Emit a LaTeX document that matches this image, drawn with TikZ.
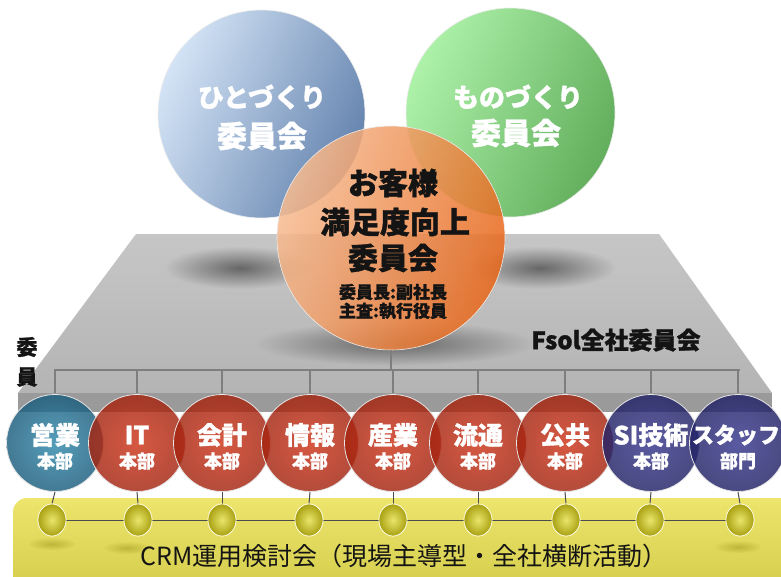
\documentclass[tikz,border=0pt]{standalone}
\usepackage{fontspec}
\setmainfont{Noto Sans CJK JP}[BoldFeatures={FakeBold=1.2}]
\usetikzlibrary{shapes.geometric}
\definecolor{platT}{HTML}{C6C6C6}
\definecolor{platB}{HTML}{B4B4B4}
\definecolor{platM}{HTML}{C1C1C1}
\definecolor{platL}{HTML}{B9B9B9}
\definecolor{bandG}{HTML}{9A9A9A}
\definecolor{lineG}{HTML}{7E7E7E}
\definecolor{shadowC}{HTML}{666666}
\definecolor{blueL}{HTML}{D4E4F6}
\definecolor{blueD}{HTML}{6483AE}
\definecolor{greenL}{HTML}{AEF2AA}
\definecolor{greenD}{HTML}{62AE5C}
\definecolor{orL}{HTML}{F6BC92}
\definecolor{orD}{HTML}{E8671A}
\definecolor{tealI}{HTML}{2F8AAC}
\definecolor{tealO}{HTML}{1B5C7C}
\definecolor{redI}{HTML}{CE3418}
\definecolor{redO}{HTML}{A42410}
\definecolor{navyI}{HTML}{36368E}
\definecolor{navyO}{HTML}{222266}
\definecolor{yelT}{HTML}{EDE56C}
\definecolor{yelB}{HTML}{D2CA48}
\definecolor{ballI}{HTML}{EAE66C}
\definecolor{ballO}{HTML}{A9A112}
\definecolor{ballS}{HTML}{BDB53A}
\definecolor{txtK}{HTML}{141414}
\tikzset{
  bigball/.style={ellipse, inner sep=0pt, draw=white!85!gray, line width=0.6pt},
  platshadow/.style={ellipse, inner sep=0pt, shading=radial, inner color=shadowC},
  dept/.style={circle, inner sep=0pt, minimum size=97pt, shading=radial,
     fill opacity=0.82, draw=white!80!gray, line width=0.8pt},
  knob/.style={ellipse, inner sep=0pt, minimum width=28pt, minimum height=32pt,
     shading=radial, inner color=ballI, outer color=ballO, draw=white!90!yellow, line width=0.7pt},
  knobshadow/.style={ellipse, inner sep=0pt, minimum width=46pt, minimum height=12pt,
     shading=radial, inner color=ballS, outer color=yelB!60!yelT},
  treeline/.style={lineG, line width=2pt},
  linkline/.style={black!70, line width=1pt},
  wbig/.style={text=white, font=\bfseries\fontsize{30}{34}\selectfont, inner sep=0pt},
  kbig/.style={text=txtK, font=\bfseries\fontsize{30}{34}\selectfont, inner sep=0pt},
  ksmall/.style={text=txtK, font=\bfseries\fontsize{17}{19}\selectfont, inner sep=0pt},
  dtop/.style={text=white, font=\bfseries\fontsize{25}{28}\selectfont, inner sep=0pt},
  dbot/.style={text=white, font=\bfseries\fontsize{18}{20}\selectfont, inner sep=0pt},
}
\begin{document}
\begin{tikzpicture}[x=1pt,y=-1pt]
\useasboundingbox[fill=white] (0,0) rectangle (781,576);

% platform
\shade[top color=platT, bottom color=platB] (136,234) -- (659,234) -- (772,393) -- (18,393) -- cycle;
\node[platshadow, outer color=platM, minimum width=150pt, minimum height=42pt] (sh1) at (240,268) {};
\node[platshadow, outer color=platM, minimum width=150pt, minimum height=42pt] (sh2) at (540,268) {};
\node[platshadow, outer color=platL, minimum width=280pt, minimum height=44pt] (sh3) at (395,344) {};

% big committees
\node[bigball, left color=blueL, right color=blueD, shading angle=65, minimum width=207pt, minimum height=208pt] (hito) at (261.5,114) {};
\node[bigball, left color=greenL, right color=greenD, shading angle=65, minimum width=209pt, minimum height=209pt] (mono) at (510.5,112.5) {};
\node[bigball, left color=orL, right color=orD, shading angle=70, fill opacity=0.86, minimum width=228pt, minimum height=224pt] (okyaku) at (391,238) {};

\node[wbig, font=\bfseries\fontsize{26}{30}\selectfont] (h1) at (262,97) {ひとづくり};
\node[wbig] (h2) at (262,136) {委員会};
\node[wbig, font=\bfseries\fontsize{26}{30}\selectfont] (m1) at (518,97) {ものづくり};
\node[wbig] (m2) at (516,133) {委員会};
\node[kbig] (o1) at (393,183) {お客様};
\node[kbig] (o2) at (395,222) {満足度向上};
\node[kbig] (o3) at (393,258) {委員会};
\node[ksmall] (o4) at (393,292) {委員長:副社長};
\node[ksmall] (o5) at (393,311) {主査:執行役員};

% labels on platform
\node[text=txtK, font=\bfseries\fontsize{24}{28}\selectfont, inner sep=0pt] (fsol) at (616,340) {Fsol全社委員会};
\node[text=txtK, font=\bfseries\fontsize{21}{24}\selectfont, inner sep=0pt] (iin1) at (27,347) {委};
\node[text=txtK, font=\bfseries\fontsize{21}{24}\selectfont, inner sep=0pt] (iin2) at (27,377) {員};

% tree
\coordinate (root) at (391,370);
\coordinate (barL) at (55,370);
\coordinate (barR) at (739,370);
\draw[treeline] (okyaku.south) -- (root);
\draw[treeline, line cap=rect] (barL) -- (barR);

% yellow band
\shade[top color=yelT, bottom color=yelB, rounded corners=14pt] (13,498) rectangle (800,600);
\node[knobshadow] (ks1) at (52,544) {};
\node[knobshadow] (ks2) at (127,548) {};
\node[knobshadow] (ks9) at (738,547) {};

% front band of platform
\fill[bandG] (18,393) rectangle (772,412);

% departments
\foreach \i/\x/\bx/\ci/\co in {
  1/55/52/tealI/tealO,
  2/137/138/redI/redO,
  3/222/222/redI/redO,
  4/310/309/redI/redO,
  5/393/393/redI/redO,
  6/478/478/redI/redO,
  7/565/566/redI/redO,
  8/651/650/navyI/navyO,
  9/738/740/navyI/navyO}{
  \coordinate (d\i) at (\x,370);
  \node[dept, inner color=\ci, outer color=\co] (c\i) at (\x,443) {};
  \draw[treeline] (d\i) -- (\x,393);
  \node[knob] (b\i) at (\bx,520) {};
}
\draw[linkline] (b1) -- (b9);
\foreach \i in {1,...,9}{
  \draw[linkline] (c\i.south) -- (b\i.north);
  \node[knob] (bb\i) at (b\i) {};
}
\foreach \i/\x/\a/\b in {1/55/営業/本部, 2/137/IT/本部, 3/222/会計/本部, 4/310/情報/本部,
  5/393/産業/本部, 6/478/流通/本部, 7/565/公共/本部, 8/651/SI技術/本部}{
  \node[dtop] (ta\i) at (\x,435) {\a};
  \node[dbot] (tb\i) at (\x,461) {\b};
}
\node[dtop, font=\bfseries\fontsize{22}{26}\selectfont] (ta9) at (736,435) {スタッフ};
\node[dbot] (tb9) at (738,461) {部門};

\node[text=txtK, font=\fontsize{25}{28}\selectfont, inner sep=0pt] (crm) at (404,556) {CRM運用検討会（現場主導型・全社横断活動）};
\end{tikzpicture}
\end{document}
